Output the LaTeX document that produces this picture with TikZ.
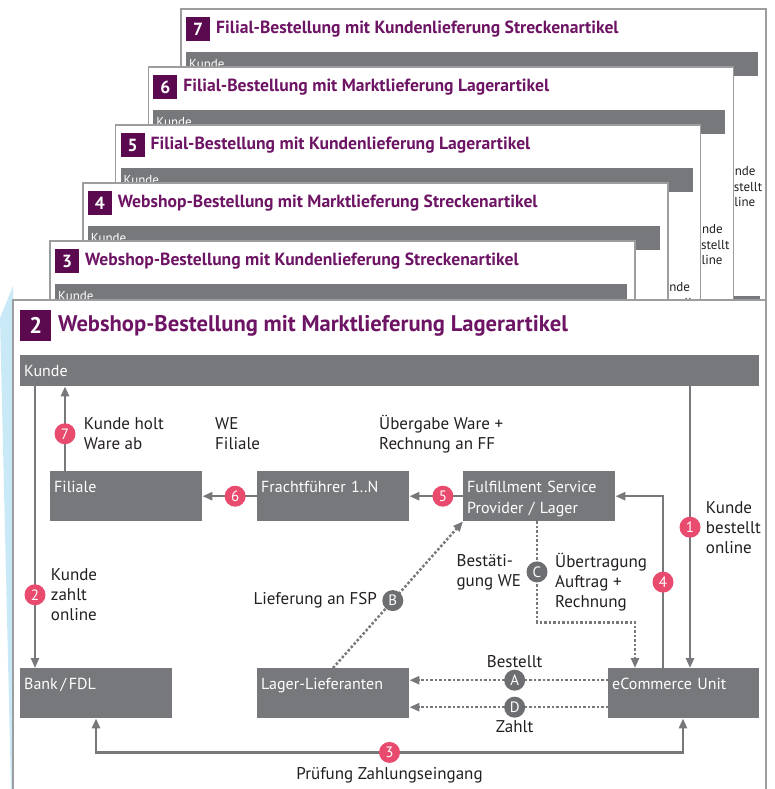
\documentclass[tikz,border=0pt]{standalone}
\usepackage{fontspec}
\setmainfont{PT Sans}
\usetikzlibrary{arrows.meta,positioning}
\definecolor{boxgrey}{HTML}{77787B}
\definecolor{dotgrey}{HTML}{6D6E71}
\definecolor{cardgrey}{HTML}{9C9D9F}
\definecolor{pinkdot}{HTML}{E94B6E}
\definecolor{purpletext}{HTML}{6E1464}
\definecolor{purplebox}{HTML}{5B0A50}
\definecolor{wedgeblue}{HTML}{C9E9F6}
\definecolor{inkgrey}{HTML}{231F20}
\newcommand\lblfont{\fontsize{17}{20}\selectfont}
\newcommand\boxfont{\fontsize{16}{21}\selectfont}
\newcommand\titlefont{\fontsize{22.6}{26}\selectfont\bfseries}
\newcommand\smalltitle{\fontsize{17.6}{20}\selectfont\bfseries}
\newcommand\smallfont{\fontsize{13}{15.5}\selectfont}
\tikzset{
  card/.style={draw=cardgrey, line width=1.5pt, fill=white},
  numbox/.style={fill=purplebox, text=white, font=\titlefont, anchor=north west, minimum size=31pt, inner sep=0pt},
  title/.style={anchor=west, text=purpletext, font=\titlefont, inner sep=0pt},
  bar/.style={fill=boxgrey, text=white, anchor=north west, minimum height=31pt, text width=731pt, align=left, inner xsep=4pt, inner ysep=0pt, font=\boxfont},
  box/.style={fill=boxgrey, text=white, anchor=north west, text width=144pt, align=left, inner sep=4pt, text height=17pt, text depth=25pt, font=\boxfont},
  flow/.style={draw=boxgrey, line width=2.5pt, -{Triangle[length=10pt,width=8pt]}},
  dotflow/.style={flow, dash pattern=on 2.5pt off 2pt},
  num/.style={circle, fill=pinkdot, text=white, minimum size=21pt, inner sep=0pt, font=\fontsize{15}{15}\selectfont},
  letter/.style={num, fill=dotgrey},
  lbl/.style={align=left, text=inkgrey, font=\lblfont, inner sep=1pt},
}
\begin{document}
\begin{tikzpicture}[x=1pt, y=-1pt]
\useasboundingbox (0,0) rectangle (775,789);
\clip (0,0) rectangle (775,789);
\fill[wedgeblue] (13,286) -- (0,318) -- (11,789) -- (13,789) -- cycle;

\foreach \i/\n/\ttl in {4/7/Filial-Bestellung mit Kundenlieferung Streckenartikel,
                        3/6/Filial-Bestellung mit Marktlieferung Lagerartikel,
                        2/5/Filial-Bestellung mit Kundenlieferung Lagerartikel,
                        1/4/Webshop-Bestellung mit Marktlieferung Streckenartikel,
                        0/3/Webshop-Bestellung mit Kundenlieferung Streckenartikel}{
  \begin{scope}[shift={({50+32.75*\i},{241-58*\i})}]
    \draw[card] (0,0) rectangle (585,420);
    \node[numbox, minimum size=24pt, font=\smalltitle] (nb\n) at (5,8) {\n};
    \node[title, font=\smalltitle] (tt\n) at (35,20) {\ttl};
    \node[bar, minimum height=24pt, text width=566pt, inner xsep=3pt, font=\smallfont] (kb\n) at (5,43) {Kunde};
    \node[lbl, anchor=west, font=\smallfont] (kt\n) at (538,178) {Kunde\\bestellt\\online};
    \fill[boxgrey] (470,287) rectangle (579,330);
  \end{scope}
}

\draw[card] (13,300) rectangle (766,820);
\node[numbox] (nb2) at (20,310) {2};
\node[title] (tt2) at (58,326) {Webshop-Bestellung mit Marktlieferung Lagerartikel};
\node[bar] (kunde) at (20,355) {Kunde};

\node[box] (fil) at (50,471) {Filiale};
\node[box] (fra) at (257,471) {Frachtführer 1..N};
\node[box] (ful) at (463,471) {Fulfillment Service\\Provider / Lager};
\node[box] (bank) at (20,668) {Bank\,/\,FDL};
\node[box] (lag) at (257,668) {Lager-Lieferanten};
\node[box, text width=143pt] (ecom) at (608,668) {eCommerce Unit};

\coordinate (k2) at ([xshift=15pt]bank.north west);
\coordinate (f7) at ([xshift=15pt]fil.north west);
\coordinate (e1) at ([xshift=82pt]ecom.north west);
\coordinate (e4) at ([xshift=55pt]ecom.north west);
\coordinate (e2) at ([xshift=27pt]ecom.north west);
\coordinate (c1) at ([xshift=74pt]ful.south west);
\coordinate (l1) at ([xshift=76pt]lag.north west);
\coordinate (e3) at ([xshift=75pt]ecom.south west);
\coordinate (b3) at ([xshift=76pt]bank.south west);

\draw[flow] (kunde.south -| k2) -- node[num, pos=0.74] (n2) {2} (k2);
\draw[flow] (f7) -- node[num, pos=0.44] (n7) {7} (kunde.south -| f7);
\draw[flow] (fra.west) -- node[num, pos=0.4] (n6) {6} (fil.east);
\draw[flow] (ful.west) -- node[num, pos=0.375] (n5) {5} (fra.east);
\draw[flow] (kunde.south -| e1) -- node[num] (n1) {1} (e1);
\draw[flow] (e4) |- node[num, pos=0.25] (n4) {4} (ful.east);
\draw[flow, {Triangle[length=10pt,width=8pt]}-{Triangle[length=10pt,width=8pt]}] (e3) -- ++(0,34) -| node[num, pos=0.25] (n3) {3} (b3);

\draw[dotflow] (c1) -- node[letter] (lc) {C} ++(0,101) -| (e2);
\draw[dotflow] (l1) -- node[letter, pos=0.46] (lb) {B} (ful.south west);
\draw[dotflow] ([yshift=13pt]ecom.west) -- node[letter, pos=0.47] (la) {A} ([yshift=13pt]lag.east);
\draw[dotflow] ([yshift=-14pt]ecom.west) -- node[letter, pos=0.47] (ld) {D} ([yshift=-14pt]lag.east);

\node[lbl, right=6pt of n7] (t7) {Kunde holt\\Ware ab};
\node[lbl, anchor=west] (twe) at (214,434) {WE\\Filiale};
\node[lbl, anchor=west] (tub) at (378,434) {Übergabe Ware +\\Rechnung an FF};
\node[lbl, right=3pt of n1] (t1) {Kunde\\bestellt\\online};
\node[lbl, right=3pt of n2] (t2) {Kunde\\zahlt\\online};
\node[lbl, left=3pt of n4] (t4) {Übertragung\\Auftrag +\\Rechnung};
\node[lbl, left=3pt of lc] (tc) {Bestäti-\\gung WE};
\node[lbl, left=3pt of lb] (tb) {Lieferung an FSP};
\node[lbl, above=0pt of la] (ta) {Bestellt};
\node[lbl, below=0pt of ld] (td) {Zahlt};
\node[lbl, below=2pt of n3] (t3) {Prüfung Zahlungseingang};
\end{tikzpicture}
\end{document}
